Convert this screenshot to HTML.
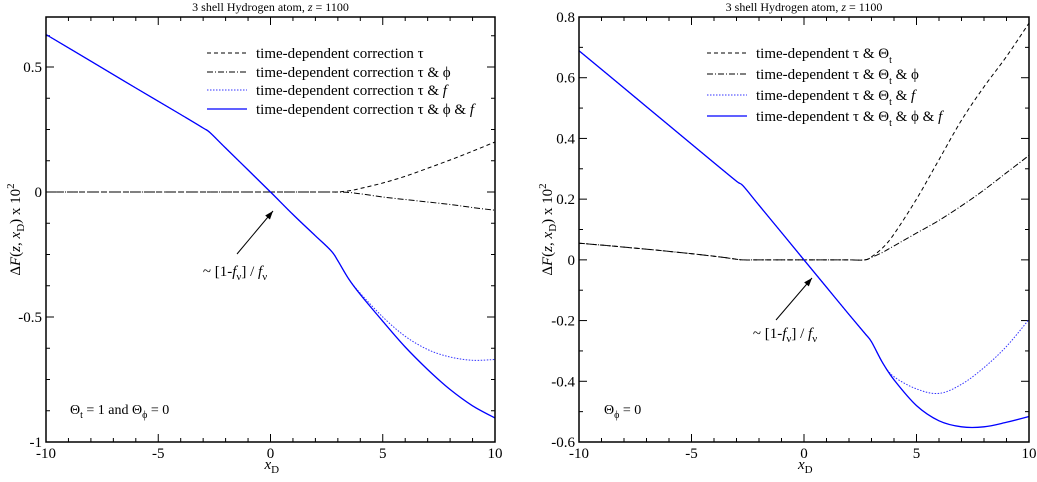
<!DOCTYPE html>
<html><head><meta charset="utf-8"><style>
body{margin:0;background:#fff;width:1037px;height:477px;overflow:hidden}
svg text{font-family:"Liberation Serif","DejaVu Serif",serif;fill:#000}
</style></head><body>
<svg id="c" width="1037" height="477" style="font-family:'Liberation Serif',serif"></svg>
<script>
const xs=[-10,-8,-6,-4,-3,-2.7,-2,-1,0,1,2,2.7,3,3.5,4,5,6,7,8,9,10];
const L_solid=[0.63,0.523,0.416,0.31,0.256,0.238,0.176,0.088,0,-0.09,-0.175,-0.235,-0.275,-0.35,-0.41,-0.517,-0.62,-0.71,-0.79,-0.855,-0.904];
const L_dotted=[0.63,0.523,0.416,0.31,0.256,0.238,0.176,0.088,0,-0.09,-0.175,-0.235,-0.275,-0.35,-0.405,-0.5,-0.577,-0.63,-0.66,-0.673,-0.67];
const L_dashed=[0,0,0,0,0,0,0,0,0,0,0,0,0,0.005,0.014,0.036,0.063,0.095,0.128,0.163,0.2];
const L_dashdot=[0,0,0,0,0,0,0,0,0,0,0,0,0,-0.002,-0.007,-0.02,-0.03,-0.04,-0.05,-0.062,-0.073];
const R_solid=[0.689,0.566,0.443,0.32,0.259,0.243,0.18,0.09,0,-0.09,-0.18,-0.242,-0.27,-0.34,-0.395,-0.48,-0.53,-0.55,-0.55,-0.535,-0.516];
const R_dotted=[0.689,0.566,0.443,0.32,0.259,0.243,0.18,0.09,0,-0.09,-0.18,-0.242,-0.27,-0.34,-0.385,-0.425,-0.44,-0.41,-0.355,-0.285,-0.196];
const R_dashed=[0.055,0.042,0.028,0.012,0.002,0,0,0,0,0,0,0,0.01,0.04,0.085,0.2,0.33,0.46,0.57,0.67,0.78];
const R_dashdot=[0.055,0.042,0.028,0.012,0.002,0,0,0,0,0,0,0,0.008,0.025,0.046,0.088,0.13,0.178,0.23,0.287,0.344];
const L_yticks=[-1,-0.5,0,0.5];
const L_ylabels=["-1","-0.5","0","0.5"];
const R_yticks=[-0.6,-0.4,-0.2,0,0.2,0.4,0.6,0.8];
const R_ylabels=["-0.6","-0.4","-0.2","0","0.2","0.4","0.6","0.8"];
const xticks=[-10,-5,0,5,10];
const xlabels=["-10","-5","0","5","10"];
const L_legend=["time-dependent correction τ","time-dependent correction τ &amp; ϕ","time-dependent correction τ &amp; <tspan font-style='italic'>f</tspan>","time-dependent correction τ &amp; ϕ &amp; <tspan font-style='italic'>f</tspan>"];
const R_legend=["time-dependent τ &amp; Θ<tspan dy='5' font-size='10'>t</tspan>","time-dependent τ &amp; Θ<tspan dy='5' font-size='10'>t</tspan><tspan dy='-5'> &amp; ϕ</tspan>","time-dependent τ &amp; Θ<tspan dy='5' font-size='10'>t</tspan><tspan dy='-5'> &amp; </tspan><tspan font-style='italic'>f</tspan>","time-dependent τ &amp; Θ<tspan dy='5' font-size='10'>t</tspan><tspan dy='-5'> &amp; ϕ &amp; </tspan><tspan font-style='italic'>f</tspan>"];
const NS='http://www.w3.org/2000/svg';
const svg=document.getElementById('c');
function mk(t,a,p){const e=document.createElementNS(NS,t);for(const k in a)e.setAttribute(k,a[k]);(p||svg).appendChild(e);return e;}
function smooth(P){let d='M'+P[0][0].toFixed(1)+','+P[0][1].toFixed(1);
  for(let i=0;i<P.length-1;i++){const p0=P[Math.max(0,i-1)],p1=P[i],p2=P[i+1],p3=P[Math.min(P.length-1,i+2)];
    const c1=[p1[0]+(p2[0]-p0[0])/6,p1[1]+(p2[1]-p0[1])/6],c2=[p2[0]-(p3[0]-p1[0])/6,p2[1]-(p3[1]-p1[1])/6];
    d+=`C${c1[0].toFixed(1)},${c1[1].toFixed(1)} ${c2[0].toFixed(1)},${c2[1].toFixed(1)} ${p2[0].toFixed(1)},${p2[1].toFixed(1)}`;}
  return d;}
function panel(o){
  const g=mk('g',{});
  
  
  const sx=v=>o.x0+(v+10)/20*(o.x1-o.x0);
  const sy=v=>o.y1-(v-o.ymin)/(o.ymax-o.ymin)*(o.y1-o.y0);
  for(let v=-10;v<=10;v++){const maj=v%5==0,l=maj?8:4;
    mk('line',{x1:sx(v),x2:sx(v),y1:o.y1,y2:o.y1-l,stroke:'#000'},g);
    mk('line',{x1:sx(v),x2:sx(v),y1:o.y0,y2:o.y0+l,stroke:'#000'},g);}
  for(let v=o.ymin;v<=o.ymax+1e-9;v+=o.minor){const maj=Math.abs(Math.round(v/o.major)*o.major-v)<1e-6,l=maj?8:4;
    mk('line',{x1:o.x0,x2:o.x0+l,y1:sy(v),y2:sy(v),stroke:'#000'},g);
    mk('line',{x1:o.x1,x2:o.x1-l,y1:sy(v),y2:sy(v),stroke:'#000'},g);}
  xticks.forEach((v,i)=>{const t=mk('text',{x:sx(v),y:o.y1+16,'text-anchor':'middle','font-size':15},g);t.textContent=xlabels[i];
    });
  o.yt.forEach((v,i)=>{const t=mk('text',{x:o.x0-4,y:sy(v)+5,'text-anchor':'end','font-size':15},g);t.textContent=o.yl[i];
    });
  const series=[[o.d[0],'#000','4,3',1],[o.d[1],'#000','6,2,1,2',1],[o.d[2],'#33f','1.5,1.5',1],[o.d[3],'#00f','',1.3]];
  const names=['dashed-series','dashdot-series','dotted-series','solid-series'];
  series.forEach((s,k)=>{const P=xs.map((x,i)=>[sx(x),sy(s[0][i])]);
    const p=mk('path',{d:smooth(P),fill:'none',stroke:s[1],'stroke-width':s[3],'stroke-dasharray':s[2],'stroke-linejoin':'round'},g);
    
    const ly=o.leg.y[k];
    const ll=mk('line',{x1:o.leg.x,x2:o.leg.x+40,y1:ly-5,y2:ly-5,stroke:s[1],'stroke-width':s[3],'stroke-dasharray':s[2]},g);
    
    const t=mk('text',{x:o.leg.x+49,y:ly,'font-size':15},g);t.innerHTML=o.leg.t[k];
    });
  mk('rect',{x:o.x0,y:o.y0,width:o.x1-o.x0,height:o.y1-o.y0,fill:'none',stroke:'#000','stroke-width':1.5},g);
  const ti=mk('text',{x:(o.x0+o.x1)/2,y:11,'text-anchor':'middle','font-size':12},g);
  ti.innerHTML="3 shell Hydrogen atom, <tspan font-style='italic'>z</tspan> = 1100";
  
  const xt=mk('text',{x:(o.x0+o.x1)/2-6,y:469,'font-size':15},g);
  xt.innerHTML="<tspan font-style='italic'>x</tspan><tspan dy='4' font-size='11'>D</tspan>";
  
  const yt=mk('text',{transform:`translate(${o.ytx},${(o.y0+o.y1)/2}) rotate(-90)`,'text-anchor':'middle','font-size':15},g);
  yt.innerHTML="Δ<tspan font-style='italic'>F</tspan>(<tspan font-style='italic'>z</tspan>, <tspan font-style='italic'>x</tspan><tspan dy='4' font-size='11'>D</tspan><tspan dy='-4'>) x 10</tspan><tspan dy='-6' font-size='11'>2</tspan>";
  
  const a=o.arrow;
  mk('line',{x1:a[0],y1:a[1],x2:a[2],y2:a[3],stroke:'#000'},g);
  const ang=Math.atan2(a[3]-a[1],a[2]-a[0]);
  const hp=(s)=>[a[2]-9*Math.cos(ang+s),a[3]-9*Math.sin(ang+s)];
  const h1=hp(0.35),h2=hp(-0.35);
  const ah=mk('polygon',{points:`${a[2]},${a[3]} ${h1} ${h2}`,fill:'#000'},g);
  
  const at=mk('text',{x:o.alab[0],y:o.alab[1],'text-anchor':'middle','font-size':15},g);
  at.innerHTML="~ [1-<tspan font-style='italic'>f</tspan><tspan dy='4' font-size='11'>ν</tspan><tspan dy='-4'>] / </tspan><tspan font-style='italic'>f</tspan><tspan dy='4' font-size='11'>ν</tspan>";
  
  const an=mk('text',{x:o.note[0],y:o.note[1],'font-size':14},g);an.innerHTML=o.note[2];
  
}
panel({name:'left-panel',x0:46,x1:495,y0:17,y1:442,ymin:-1,ymax:0.7,major:0.5,minor:0.125,yt:L_yticks,yl:L_ylabels,ytx:20,
 d:[L_dashed,L_dashdot,L_dotted,L_solid],leg:{x:207,y:[58,77,95,114],t:L_legend},arrow:[237,254,273,211],alab:[235,276],
 note:[70,414,"Θ<tspan dy='4' font-size='10'>t</tspan><tspan dy='-4'> = 1 and Θ</tspan><tspan dy='4' font-size='10'>ϕ</tspan><tspan dy='-4'> = 0</tspan>"]});
panel({name:'right-panel',x0:579,x1:1029,y0:17,y1:442,ymin:-0.6,ymax:0.8,major:0.2,minor:0.1,yt:R_yticks,yl:R_ylabels,ytx:552,
 d:[R_dashed,R_dashdot,R_dotted,R_solid],leg:{x:707,y:[58,79,100,121],t:R_legend},arrow:[776,320,812,278],alab:[785,338],
 note:[604,414,"Θ<tspan dy='4' font-size='10'>ϕ</tspan><tspan dy='-4'> = 0</tspan>"]});
</script>
</body></html>
